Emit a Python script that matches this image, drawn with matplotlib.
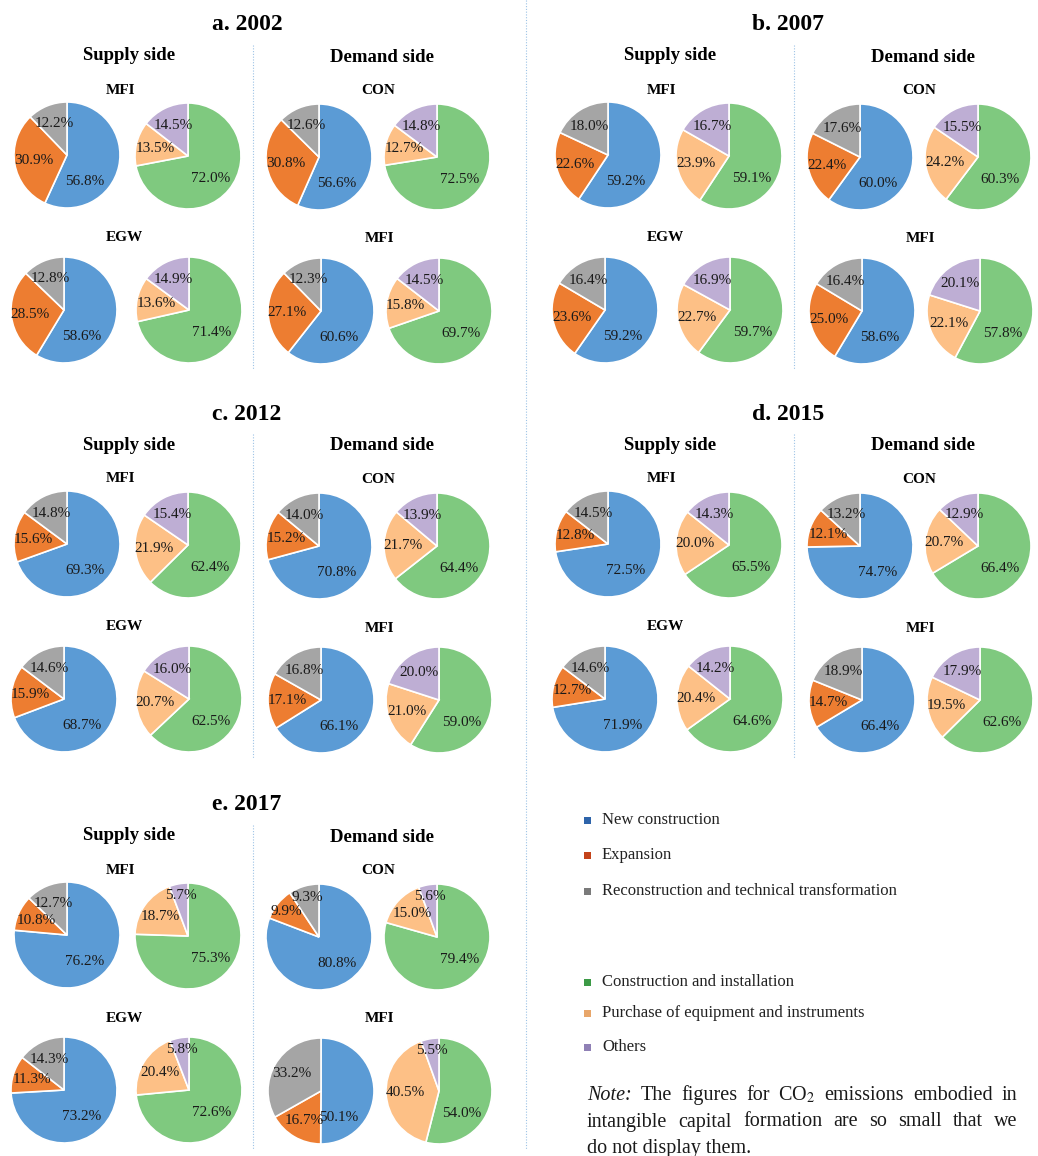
import numpy as np
import matplotlib
matplotlib.use("Agg")
import matplotlib.pyplot as plt
from matplotlib.lines import Line2D
from matplotlib.patches import Rectangle

plt.rcParams['font.family'] = ['Liberation Serif', 'DejaVu Serif']
plt.rcParams['mathtext.fontset'] = 'stix'

W, H = 1038, 1156

# panels and the two charts per sector (investment type / asset type)
panel_titles = ['a. 2002', 'b. 2007', 'c. 2012', 'd. 2015', 'e. 2017']
sector_names = ['MFI', 'CON', 'EGW', 'MFI']   # supply top, demand top, supply bottom, demand bottom

type_labels = ['New construction', 'Expansion', 'Reconstruction and technical transformation']
asset_labels = ['Construction and installation', 'Purchase of equipment and instruments', 'Others']

# shares (%) by investment type: new construction, expansion, reconstruction
type_2002 = [[56.8, 30.9, 12.2], [56.6, 30.8, 12.6], [58.6, 28.5, 12.8], [60.6, 27.1, 12.3]]
type_2007 = [[59.2, 22.6, 18.0], [60.0, 22.4, 17.6], [59.2, 23.6, 16.4], [58.6, 25.0, 16.4]]
type_2012 = [[69.3, 15.6, 14.8], [70.8, 15.2, 14.0], [68.7, 15.9, 14.6], [66.1, 17.1, 16.8]]
type_2015 = [[72.5, 12.8, 14.5], [74.7, 12.1, 13.2], [71.9, 12.7, 14.6], [66.4, 14.7, 18.9]]
type_2017 = [[76.2, 10.8, 12.7], [80.8, 9.9, 9.3], [73.2, 11.3, 14.3], [50.1, 16.7, 33.2]]

# shares (%) by asset: construction & installation, equipment purchase, others
asset_2002 = [[72.0, 13.5, 14.5], [72.5, 12.7, 14.8], [71.4, 13.6, 14.9], [69.7, 15.8, 14.5]]
asset_2007 = [[59.1, 23.9, 16.7], [60.3, 24.2, 15.5], [59.7, 22.7, 16.9], [57.8, 22.1, 20.1]]
asset_2012 = [[62.4, 21.9, 15.4], [64.4, 21.7, 13.9], [62.5, 20.7, 16.0], [59.0, 21.0, 20.0]]
asset_2015 = [[65.5, 20.0, 14.3], [66.4, 20.7, 12.9], [64.6, 20.4, 14.2], [62.6, 19.5, 17.9]]
asset_2017 = [[75.3, 18.7, 5.7], [79.4, 15.0, 5.6], [72.6, 20.4, 5.8], [54.0, 40.5, 5.5]]

type_data = [type_2002, type_2007, type_2012, type_2015, type_2017]
asset_data = [asset_2002, asset_2007, asset_2012, asset_2015, asset_2017]

type_colors = ['#5b9bd5', '#ed7d31', '#a5a5a5']
asset_colors = ['#7fc97f', '#fdc086', '#beaed4']
type_legend_colors = ['#2e64aa', '#c4431a', '#7a7a7a']
asset_legend_colors = ['#3c9a46', '#e8a66a', '#8f80b5']

# pixel layout
panel_origin = [(0, 0), (541, 0), (0, 389), (541, 389), (0, 780)]
R = 53
pie_pos = [((67, 155), (188, 156)), ((319, 157), (437, 157)),
           ((64, 310), (189, 310)), ((321, 311), (439, 311))]
sector_pos = [(121, 90), (378, 91), (124, 238), (380, 239)]

fig = plt.figure(figsize=(W / 100, H / 100), dpi=100)
fig.patch.set_facecolor('white')


def ftext(x, y, s, **kw):
    kw.setdefault('ha', 'center')
    kw.setdefault('va', 'center')
    return fig.text(x / W, 1 - y / H, s, **kw)


def vline(x, y0, y1):
    fig.add_artist(Line2D([x / W, x / W], [1 - y0 / H, 1 - y1 / H], transform=fig.transFigure,
                          color='#9dc3e6', lw=0.8, ls=(0, (1, 1.5))))


def draw_pie(cx, cy, values, colors, first_angle):
    ax = fig.add_axes([(cx - R) / W, 1 - (cy + R) / H, 2 * R / W, 2 * R / H])
    ax.pie(values, colors=colors, startangle=90, counterclock=False, radius=1,
           wedgeprops=dict(edgecolor='white', linewidth=1.2))
    ax.set_xlim(-1, 1)
    ax.set_ylim(-1, 1)
    ax.set_aspect('equal')
    ax.axis('off')
    frac = np.array(values) / np.sum(values)
    start = 90.0
    for i, (v, f) in enumerate(zip(values, frac)):
        mid = start - f * 180
        start -= f * 360
        if i == 0:
            ang, d = first_angle, 0.6
        else:
            ang, d = mid, (0.64 if f >= 0.1 else 0.78)
        a = np.deg2rad(ang)
        ax.text(d * np.cos(a), d * np.sin(a), f'{v:.1f}%', ha='center', va='center',
                fontsize=11, color='#1a1a1a', clip_on=False)


for p, (ox, oy) in enumerate(panel_origin):
    ftext(ox + 247, oy + 25, panel_titles[p], fontsize=17, fontweight='bold')
    ftext(ox + 129, oy + 56, 'Supply side', fontsize=13.5, fontweight='bold')
    ftext(ox + 382, oy + 57, 'Demand side', fontsize=13.5, fontweight='bold')
    vline(ox + 253, oy + 45, oy + 370)
    for k in range(4):
        sx, sy = sector_pos[k]
        ftext(ox + sx, oy + sy, sector_names[k], fontsize=11, fontweight='bold')
        (c1x, c1y), (c2x, c2y) = pie_pos[k]
        draw_pie(ox + c1x, oy + c1y, type_data[p][k], type_colors, -56)
        draw_pie(ox + c2x, oy + c2y, asset_data[p][k], asset_colors, -45)

# column separator
vline(526, 0, 1150)

# legend
lx, tx = 587, 602
for lab, col, y in zip(type_labels, type_legend_colors, [820, 855, 891]):
    fig.add_artist(Rectangle(((lx - 3.5) / W, 1 - (y + 3.5) / H), 7 / W, 7 / H,
                             transform=fig.transFigure, color=col, lw=0))
    ftext(tx, y, lab, fontsize=12, ha='left', color='#222222')
for lab, col, y in zip(asset_labels, asset_legend_colors, [982, 1013, 1047]):
    fig.add_artist(Rectangle(((lx - 3.5) / W, 1 - (y + 3.5) / H), 7 / W, 7 / H,
                             transform=fig.transFigure, color=col, lw=0))
    ftext(tx, y, lab, fontsize=12, ha='left', color='#222222')

# justified note
note_lines = [
    [('Note:', 'italic'), ('The', 'normal'), ('figures', 'normal'), ('for', 'normal'),
     ('CO$_2$', 'normal'), ('emissions', 'normal'), ('embodied', 'normal'), ('in', 'normal')],
    [(w, 'normal') for w in 'intangible capital formation are so small that we'.split()],
]
note_x0, note_x1 = 587, 1017
renderer = fig.canvas.get_renderer()
for line, y in zip(note_lines, [1095, 1122]):
    arts = [ftext(0, y, w, fontsize=14.5, ha='left', style=st, color='#1a1a1a') for w, st in line]
    widths = [a.get_window_extent(renderer).width for a in arts]
    gap = (note_x1 - note_x0 - sum(widths)) / (len(arts) - 1)
    x = note_x0
    for a, w in zip(arts, widths):
        a.set_position((x / W, 1 - y / H))
        x += w + gap
ftext(note_x0, 1148, 'do not display them.', fontsize=14.5, ha='left', color='#1a1a1a')

fig.savefig('out.png', dpi=100, facecolor='white')
